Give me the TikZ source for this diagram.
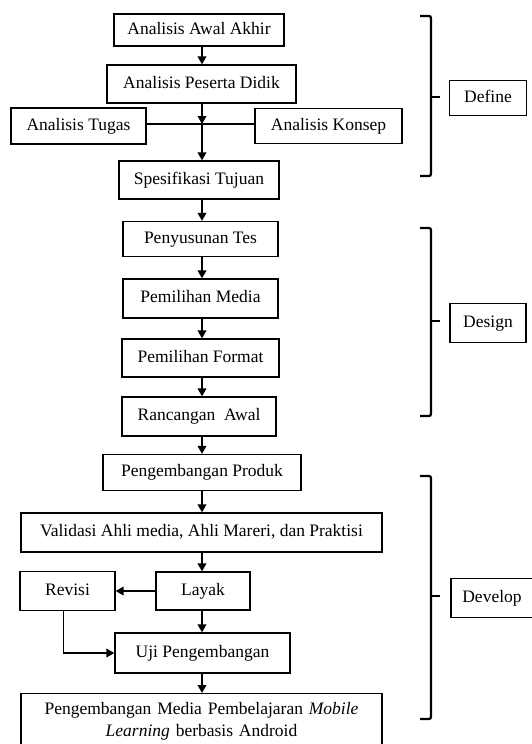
\documentclass[tikz,border=0pt]{standalone}
\usepackage{fontspec}
\setmainfont{Liberation Serif}
\usepackage{tikz}
\usetikzlibrary{positioning, arrows.meta, shapes}

\begin{document}
\begin{tikzpicture}[
    x=1pt, y=-1pt,
    box_style/.style={draw, line width=1.2pt, inner sep=0pt, font=\fontsize{17.5}{22}\selectfont},
    line_box/.style={box_style, text height=12pt, text depth=4pt},
    arrow_style/.style={line width=1.9pt, -{Triangle[length=8pt, width=8.5pt]}},
    line_style/.style={line width=1.9pt},
    bracket_style/.style={line width=2.2pt, rounded corners=2pt}
]
    \useasboundingbox (0,0) rectangle (532,744);

    % Coordinates
    \coordinate (c_awal) at (199,30);
    \coordinate (c_peserta) at (201.5,84);
    \coordinate (c_tugas) at (78.5,126);
    \coordinate (c_konsep) at (328.5,126);
    \coordinate (cross) at (202,124);
    \coordinate (c_spes) at (199,180);
    \coordinate (c_tes) at (200.5,239);
    \coordinate (c_media) at (200.5,298.5);
    \coordinate (c_format) at (200.5,358);
    \coordinate (c_rancangan) at (199,416.5);
    \coordinate (c_produk) at (202,472.5);
    \coordinate (c_validasi) at (201.5,532.5);
    \coordinate (c_revisi) at (67.5,591);
    \coordinate (c_layak) at (203,591);
    \coordinate (c_uji) at (202.5,653);
    \coordinate (c_final) at (201.5,693);
    \coordinate (axis) at (202,0);

    % Boxes
    \node[line_box, minimum width=170pt, minimum height=32pt] (awal) at (c_awal) {Analisis Awal Akhir};
    \node[line_box, minimum width=189pt, minimum height=38pt] (peserta) at (c_peserta) {Analisis Peserta Didik};
    \node[line_box, minimum width=135pt, minimum height=36pt] (tugas) at (c_tugas) {Analisis Tugas};
    \node[line_box, minimum width=147pt, minimum height=35pt] (konsep) at (c_konsep) {Analisis Konsep};
    \node[line_box, minimum width=160pt, minimum height=38pt] (spes) at (c_spes) {Spesifikasi Tujuan};
    \node[line_box, minimum width=155pt, minimum height=35pt] (tes) at (c_tes) {Penyusunan Tes};
    \node[line_box, minimum width=155pt, minimum height=39pt] (media) at (c_media) {Pemilihan Media};
    \node[line_box, minimum width=157pt, minimum height=38pt] (format) at (c_format) {Pemilihan Format};
    \node[line_box, minimum width=154pt, minimum height=39pt] (rancangan) at (c_rancangan) {Rancangan\ \ Awal};
    \node[line_box, minimum width=198pt, minimum height=36pt] (produk) at (c_produk) {Pengembangan Produk};
    \node[line_box, minimum width=361pt, minimum height=39pt] (validasi) at (c_validasi) {Validasi Ahli media, Ahli Mareri, dan Praktisi};
    \node[line_box, minimum width=95pt, minimum height=39pt] (revisi) at (c_revisi) {Revisi};
    \node[line_box, minimum width=94pt, minimum height=38pt] (layak) at (c_layak) {Layak};
    \node[line_box, minimum width=175pt, minimum height=40pt] (uji) at (c_uji) {Uji Pengembangan};
    \node[box_style, anchor=north, text width=355pt, align=center, minimum width=361pt, minimum height=56pt] (final) at (c_final)
        {Pengembangan Media Pembelajaran \textit{Mobile}\\ \textit{Learning} berbasis Android};

    % Stage labels
    \node[line_box, minimum width=77pt, minimum height=35pt] (define) at (488,98) {Define};
    \node[line_box, minimum width=76pt, minimum height=39pt] (design) at (488,323) {Design};
    \node[line_box, minimum width=82pt, minimum height=39pt] (develop) at (492,598) {Develop};

    % Arrows
    \draw[arrow_style] (axis |- awal.south) -- (axis |- peserta.north);
    \draw[arrow_style] (axis |- peserta.south) -- (cross);
    \draw[line_style] (tugas.east |- cross) -- (konsep.west |- cross);
    \draw[arrow_style] (cross) -- (axis |- spes.north);
    \draw[arrow_style] (axis |- spes.south) -- (axis |- tes.north);
    \draw[arrow_style] (axis |- tes.south) -- (axis |- media.north);
    \draw[arrow_style] (axis |- media.south) -- (axis |- format.north);
    \draw[arrow_style] (axis |- format.south) -- (axis |- rancangan.north);
    \draw[arrow_style] (axis |- rancangan.south) -- (axis |- produk.north);
    \draw[arrow_style] (axis |- produk.south) -- (axis |- validasi.north);
    \draw[arrow_style] (axis |- validasi.south) -- (axis |- layak.north);
    \draw[arrow_style] (layak.west) -- (revisi.east);
    \draw[arrow_style] ([xshift=-4pt]revisi.south) |- (uji.west);
    \draw[arrow_style] (axis |- layak.south) -- (axis |- uji.north);
    \draw[arrow_style] (axis |- uji.south) -- (axis |- final.north);

    % Brackets
    \draw[bracket_style] (420,16) -- (431,16) -- (431,176) -- (420,176);
    \draw[line_style, line width=2.2pt] (431,97) -- (440,97);
    \draw[bracket_style] (420,228) -- (431,228) -- (431,416) -- (420,416);
    \draw[line_style, line width=2.2pt] (431,321) -- (440,321);
    \draw[bracket_style] (420,476) -- (431,476) -- (431,719) -- (420,719);
    \draw[line_style, line width=2.2pt] (431,596) -- (440,596);
\end{tikzpicture}
\end{document}
